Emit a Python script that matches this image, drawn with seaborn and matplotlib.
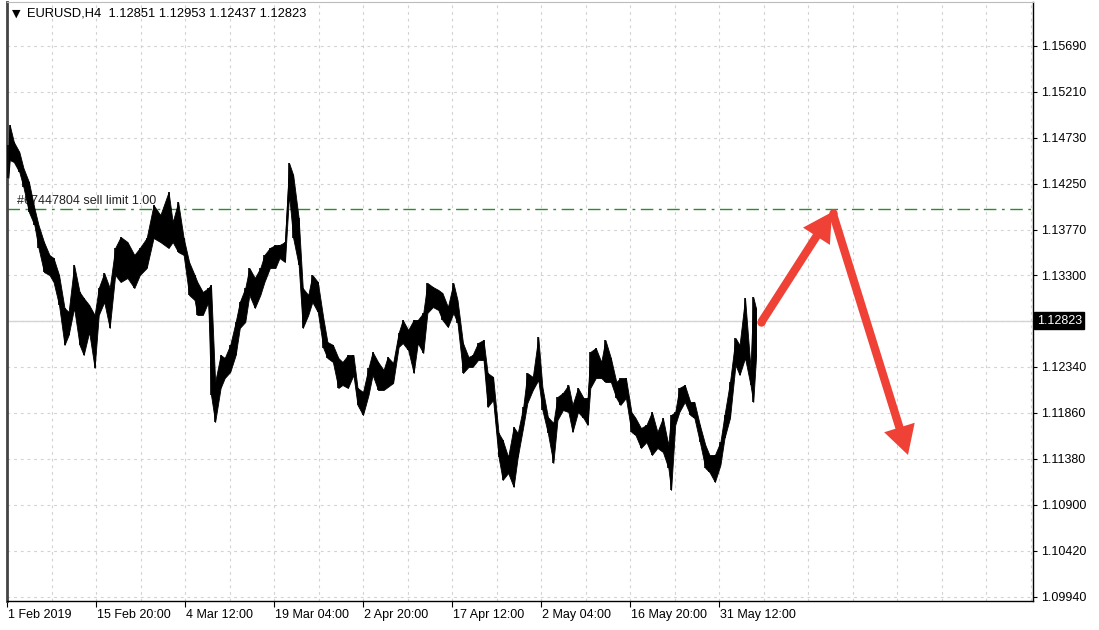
import numpy as np
import pandas as pd
import matplotlib
matplotlib.use("Agg")
import matplotlib.pyplot as plt
import matplotlib.transforms as mtransforms
from matplotlib.patches import FancyArrowPatch
import seaborn as sns

# EURUSD H4, sampled every few bars (bar index counted from 1 Feb 2019)
bars = [1, 2, 5, 9, 12, 16, 20, 23, 27, 31, 34, 38, 42, 45, 49, 53, 56, 60, 64, 67,
        71, 75, 79, 83, 88, 93, 97, 102, 107, 112, 118, 121, 125, 129, 133, 137, 139, 143, 147, 149,
        152, 156, 159, 163, 167, 170, 174, 177, 181, 185, 188, 192, 196, 199, 203, 206, 209, 213, 216, 220,
        223, 227, 231, 234, 238, 242, 245, 249, 253, 256, 260, 264, 267, 271, 275, 278, 282, 286, 289, 293,
        297, 300, 304, 307, 311, 315, 318, 322, 326, 329, 333, 337, 340, 344, 348, 351, 355, 359, 362, 366,
        370, 373, 377, 380, 384, 388, 391, 395, 399, 402, 406, 410, 413, 417, 421, 424, 426, 430, 434, 437,
        441, 445, 448, 452, 456, 459, 463, 467, 471, 475, 479, 483, 485, 488, 491, 495, 499, 502, 506, 510,
        513, 517, 521, 524, 528, 532, 535, 539, 543, 545, 547]
highs = [1.14657, 1.14865, 1.14688, 1.14584, 1.14417, 1.14271, 1.13999, 1.13822, 1.13644, 1.13509,
         1.13477, 1.13300, 1.12956, 1.12914, 1.13404, 1.13123, 1.13060, 1.12987, 1.12883, 1.13164,
         1.13321, 1.13164, 1.13582, 1.13697, 1.13644, 1.13509, 1.13582, 1.13686, 1.14030, 1.13926,
         1.14166, 1.13853, 1.14062, 1.13686, 1.13436, 1.13300, 1.13227, 1.13123, 1.13164, 1.13196,
         1.12184, 1.12465, 1.12434, 1.12570, 1.12810, 1.13018, 1.13164, 1.13373, 1.13269, 1.13373,
         1.13509, 1.13582, 1.13613, 1.13613, 1.13644, 1.14469, 1.14344, 1.13895, 1.13164, 1.13091,
         1.13300, 1.13227, 1.12851, 1.12601, 1.12570, 1.12434, 1.12392, 1.12465, 1.12465, 1.12121,
         1.12079, 1.12330, 1.12497, 1.12392, 1.12309, 1.12444, 1.12382, 1.12695, 1.12831, 1.12726,
         1.12831, 1.12831, 1.12904, 1.13217, 1.13175, 1.13144, 1.13112, 1.12966, 1.13217, 1.13039,
         1.12590, 1.12444, 1.12465, 1.12590, 1.12622, 1.12277, 1.12236, 1.11651, 1.11578, 1.11401,
         1.11714, 1.11651, 1.11923, 1.12277, 1.12236, 1.12653, 1.12131, 1.11818, 1.11756, 1.12027,
         1.12069, 1.12152, 1.11944, 1.12121, 1.12017, 1.12017, 1.12497, 1.12538, 1.12392, 1.12622,
         1.12434, 1.12184, 1.12225, 1.12225, 1.11870, 1.11808, 1.11703, 1.11735, 1.11870, 1.11662,
         1.11808, 1.11526, 1.11839, 1.11870, 1.12121, 1.12152, 1.11975, 1.11975, 1.11735, 1.11526,
         1.11422, 1.11422, 1.11557, 1.11839, 1.12184, 1.12643, 1.12570, 1.13060, 1.12330, 1.13070,
         1.12953]
lows = [1.14312, 1.14500, 1.14479, 1.14375, 1.14218, 1.13957, 1.13822, 1.13582, 1.13331, 1.13300,
        1.13227, 1.12987, 1.12570, 1.12674, 1.12956, 1.12570, 1.12465, 1.12705, 1.12330, 1.12883,
        1.13018, 1.12747, 1.13300, 1.13227, 1.13269, 1.13164, 1.13300, 1.13373, 1.13686, 1.13644,
        1.13582, 1.13644, 1.13540, 1.13509, 1.13091, 1.13039, 1.12883, 1.12883, 1.13018, 1.12048,
        1.11766, 1.12121, 1.12225, 1.12288, 1.12465, 1.12747, 1.12810, 1.13091, 1.12956, 1.13091,
        1.13227, 1.13373, 1.13373, 1.13477, 1.13436, 1.14135, 1.13686, 1.13404, 1.12747, 1.12883,
        1.13018, 1.12914, 1.12538, 1.12434, 1.12392, 1.12121, 1.12152, 1.12121, 1.12257, 1.11944,
        1.11839, 1.12048, 1.12257, 1.12100, 1.12100, 1.12131, 1.12173, 1.12549, 1.12590, 1.12517,
        1.12277, 1.12590, 1.12486, 1.12904, 1.12966, 1.12935, 1.12831, 1.12757, 1.12904, 1.12799,
        1.12277, 1.12340, 1.12340, 1.12413, 1.12413, 1.11923, 1.11996, 1.11401, 1.11161, 1.11234,
        1.11088, 1.11401, 1.11714, 1.11964, 1.12100, 1.12204, 1.11891, 1.11651, 1.11338, 1.11787,
        1.11891, 1.11870, 1.11662, 1.11870, 1.11808, 1.11735, 1.12121, 1.12225, 1.12225, 1.12184,
        1.12184, 1.12017, 1.11944, 1.12017, 1.11662, 1.11630, 1.11495, 1.11557, 1.11422, 1.11495,
        1.11453, 1.11286, 1.11057, 1.11735, 1.11870, 1.11975, 1.11839, 1.11808, 1.11557, 1.11286,
        1.11244, 1.11140, 1.11317, 1.11599, 1.11808, 1.12361, 1.12257, 1.12434, 1.12152, 1.11975,
        1.12437]

price_ticks = [1.09940, 1.10420, 1.10900, 1.11380, 1.11860, 1.12340, 1.13300,
               1.13770, 1.14250, 1.14730, 1.15210, 1.15690]
date_ticks = [0, 65, 130, 195, 260, 325, 390, 455, 520]
date_labels = ["1 Feb 2019", "15 Feb 20:00", "4 Mar 12:00", "19 Mar 04:00", "2 Apr 20:00",
               "17 Apr 12:00", "2 May 04:00", "16 May 20:00", "31 May 12:00"]
last_price = 1.12823
sell_limit = 1.13990
header = "EURUSD,H4  1.12851 1.12953 1.12437 1.12823"
order_text = "#67447804 sell limit 1.00"

# forecast arrows drawn on the chart (bar, price)
up_x, up_y = [551, 602.5], [1.12810, 1.13957]
down_x, down_y = [603, 658], [1.13947, 1.11422]

sns.set_style("white")
plt.rcParams['font.family'] = ['Liberation Sans', 'DejaVu Sans']

fig = plt.figure(figsize=(10.99, 6.30), dpi=100)
ax = fig.add_axes([7 / 1099, 29 / 630, 1026 / 1099, 599 / 630])

grid_col = '#d2d2d2'
for gx in np.arange(0, 750, 32.5):
    ax.axvline(gx, color=grid_col, lw=0.8, dashes=(2.5, 3.5), zorder=0)
for gy in price_ticks + [1.12820]:
    ax.axhline(gy, color=grid_col, lw=0.8, dashes=(2.5, 3.5), zorder=0)

# bid line and pending order line
ax.axhline(last_price, color='#d4d4d4', lw=1.0, zorder=0.5)
ax.axhline(sell_limit, color='#2f8a2f', lw=1.0, dashes=(9, 4, 2, 4), zorder=0.6)
ax.text(7.5, sell_limit + 0.00018, order_text, fontsize=9, color='#222222',
        ha='left', va='bottom', zorder=0.7)

# price bars: band between highs and lows
df = pd.DataFrame({'bar': bars + bars, 'price': highs + lows})
sns.lineplot(data=df, x='bar', y='price', estimator='mean', errorbar=('pi', 100),
             color='black', lw=0.8, err_kws={'alpha': 1, 'linewidth': 0.6, 'edgecolor': 'black'},
             ax=ax)
ax.vlines(bars, lows, highs, color='black', lw=1.2, zorder=3)

red = '#ef4136'
for xs, ys in [(up_x, up_y), (down_x, down_y)]:
    arr = FancyArrowPatch((xs[0], ys[0]), (xs[1], ys[1]),
                          arrowstyle='simple,head_length=0.9,head_width=1.0,tail_width=0.26',
                          mutation_scale=23, color=red, lw=0, shrinkA=0, shrinkB=0, zorder=5)
    ax.add_patch(arr)
    ax.plot([xs[0]], [ys[0]], 'o', color=red, ms=6, mew=0, zorder=5)

ax.set_xlim(0, 749.3)
ax.set_ylim(1.09898, 1.16149)
ax.set_xlabel('')
ax.set_ylabel('')

ax.yaxis.tick_right()
ax.set_yticks(price_ticks)
ax.set_yticklabels([f"{p:.5f}" for p in price_ticks])
ax.set_xticks(date_ticks)
ax.set_xticklabels(date_labels, ha='left')
ax.tick_params(axis='y', right=True, length=3, width=0.8, pad=3, labelsize=9, colors='black')
ax.tick_params(axis='x', bottom=True, length=4, width=0.8, pad=2, labelsize=9, colors='black')
for lab in ax.get_xticklabels():
    lab.set_transform(lab.get_transform() + mtransforms.ScaledTranslation(1 / 100, 0, fig.dpi_scale_trans))

for side in ['bottom', 'right']:
    ax.spines[side].set_color('black')
    ax.spines[side].set_linewidth(1.0)
ax.spines['left'].set_color('#444444')
ax.spines['left'].set_linewidth(2.0)
ax.spines['top'].set_color('#bbbbbb')
ax.spines['top'].set_linewidth(0.8)

# current price label on the price scale
trans = mtransforms.blended_transform_factory(ax.transAxes, ax.transData)
ax.text(1.0035, last_price, f"{last_price:.5f}", transform=trans, fontsize=9, color='white',
        ha='left', va='center', zorder=6,
        bbox=dict(boxstyle='square,pad=0.18', fc='black', ec='black'))

fig.text(12 / 1099, 1 - 14 / 630, "\u25bc", fontsize=8, color='black', va='center', ha='left',
         family=['DejaVu Sans'])
fig.text(27 / 1099, 1 - 14 / 630, header, fontsize=9.3, color='black', va='center', ha='left')

fig.savefig('out.png', dpi=100)
